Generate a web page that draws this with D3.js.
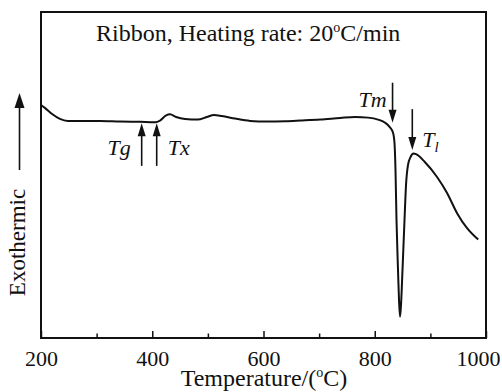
<!DOCTYPE html>
<html>
<head>
<meta charset="utf-8">
<script src="https://cdn.jsdelivr.net/npm/d3@7"></script>
<style>
  html, body { margin: 0; padding: 0; background: #fff; }
  svg { display: block; font-family: "Liberation Serif", "DejaVu Serif", serif; }
  svg text { font-family: "Liberation Serif", "DejaVu Serif", serif; }
</style>
</head>
<body>
<svg id="chart" width="502" height="392"></svg>
<script>

// DSC trace (temperature in degC, signal in arbitrary units)
const temperature = [200, 207, 220, 234, 248, 270, 306, 342, 378, 405, 414, 425, 432, 443, 459, 482,
  498, 511, 525, 549, 576, 606, 639, 666, 702, 738, 765, 788, 806, 818, 827, 833, 835.5, 837.3,
  839.1, 841.8, 843.6, 845.4, 847.2, 849.9, 853.5, 856.2, 859.8, 864.3, 869.7, 874.2, 890, 912,
  930, 948, 966, 986];
const signal = [71.5, 70.6, 68.7, 67.2, 66.6, 66.6, 66.6, 66.4, 66.3, 66.2, 66.7, 68.3, 68.6, 67.8, 67.2, 67.0,
  67.8, 68.4, 68.1, 67.3, 66.6, 66.4, 66.5, 66.7, 67.0, 67.5, 67.8, 67.6, 67.0, 66.1, 64.7, 62.9, 59.8, 51.5,
  36.2, 20.9, 11.7, 6.5, 10.1, 20.9, 36.2, 46.9, 53.1, 55.5, 56.6, 56.4, 54.0, 49.4,
  44.5, 38.3, 33.7, 30.2];

// x axis ticks
const majorTicks = [200, 400, 600, 800, 1000];
const minorTicks = [300, 500, 700, 900];

// marked temperatures and the arrows pointing at them
const markNames = ["Tg", "Tx", "Tm", "Tl"];
const markTemps = [381, 408, 832, 867.5];
const markFrom = [52.8, 52.8, 78.3, 70.2];   // arrow tail
const markTo = [65.9, 65.9, 66.0, 57.7];     // arrow tip


const MARGIN = { left: 41, right: 16, top: 12, bottom: 54 };
const WIDTH = 502, HEIGHT = 392;

const svg = d3.select("#chart");

const x = d3.scaleLinear()
    .domain([200, 1000])
    .range([MARGIN.left, WIDTH - MARGIN.right]);
const y = d3.scaleLinear()
    .domain([0, 100])
    .range([HEIGHT - MARGIN.bottom, MARGIN.top]);

const data = temperature.map((t, i) => ({ t: t, v: signal[i] }));

// frame
svg.append("rect")
    .attr("x", x(200))
    .attr("y", y(100))
    .attr("width", x(1000) - x(200))
    .attr("height", y(0) - y(100))
    .attr("fill", "none")
    .attr("stroke", "#111")
    .attr("stroke-width", 2);

// minor ticks (inside, no labels)
svg.append("g")
    .attr("transform", "translate(0," + y(0) + ")")
    .call(d3.axisBottom(x).tickValues(minorTicks).tickSizeInner(-4.5).tickSizeOuter(0).tickFormat(""))
    .call(g => g.select(".domain").remove())
    .call(g => g.selectAll("line").attr("stroke", "#111").attr("stroke-width", 1.5));

// major ticks with labels
const xAxis = svg.append("g")
    .attr("transform", "translate(0," + y(0) + ")")
    .call(d3.axisBottom(x).tickValues(majorTicks).tickSizeInner(-7).tickSizeOuter(0)
        .tickFormat(d3.format("d")))
    .call(g => g.select(".domain").remove())
    .attr("font-family", null)
    .attr("font-size", null);
xAxis.selectAll("line")
    .attr("stroke", "#111")
    .attr("stroke-width", 1.5);
xAxis.selectAll("text")
    .attr("y", 28)
    .attr("dy", null)
    .attr("fill", "#111")
    .style("font-size", "22px");
// last label is pulled in so it stays on the page
xAxis.selectAll("text")
    .filter(d => d === 1000)
    .attr("text-anchor", "end")
    .attr("x", 14);

// the trace
const line = d3.line()
    .x(d => x(d.t))
    .y(d => y(d.v))
    .curve(d3.curveMonotoneX);

svg.append("path")
    .datum(data)
    .attr("d", line)
    .attr("fill", "none")
    .attr("stroke", "#111")
    .attr("stroke-width", 2)
    .attr("stroke-linejoin", "round");

// arrows at the marked temperatures
function arrow(px, y0, y1, headLen, headW)
{
  let dir = (y1 > y0) ? 1 : -1;
  svg.append("line")
      .attr("x1", px).attr("x2", px)
      .attr("y1", y0).attr("y2", y1 - dir * headLen * 0.5)
      .attr("stroke", "#111")
      .attr("stroke-width", 1.6);
  svg.append("path")
      .attr("d", "M" + px + "," + y1
          + "L" + (px - headW / 2) + "," + (y1 - dir * headLen)
          + "L" + (px + headW / 2) + "," + (y1 - dir * headLen) + "Z")
      .attr("fill", "#111");
}

markTemps.forEach((t, i) =>
{
  arrow(x(t), y(markFrom[i]), y(markTo[i]), 13, 8);
});

// labels of the marks
const markLabel = svg.append("g")
    .style("font-style", "italic")
    .style("font-size", "22px")
    .attr("fill", "#111");

markLabel.append("text")
    .attr("x", x(markTemps[0]) - 11)
    .attr("y", 155)
    .attr("text-anchor", "end")
    .text(markNames[0]);
markLabel.append("text")
    .attr("x", x(markTemps[1]) + 11)
    .attr("y", 155)
    .text(markNames[1]);
markLabel.append("text")
    .attr("x", x(markTemps[2]) - 6)
    .attr("y", 107)
    .attr("text-anchor", "end")
    .text(markNames[2]);
let tl = markLabel.append("text")
    .attr("x", x(markTemps[3]) + 10)
    .attr("y", 147);
tl.append("tspan").text(markNames[3].charAt(0));
tl.append("tspan")
    .attr("dy", 5)
    .style("font-size", "15px")
    .text(markNames[3].charAt(1));

// title inside the frame
let title = svg.append("text")
    .attr("x", 96)
    .attr("y", 41)
    .attr("fill", "#111")
    .style("font-size", "24px");
title.append("tspan").text("Ribbon, Heating rate: 20");
title.append("tspan").attr("dy", -9).style("font-size", "14px").text("o");
title.append("tspan").attr("dy", 9).text("C/min");

// x axis title
let xTitle = svg.append("text")
    .attr("x", 264)
    .attr("y", 386)
    .attr("text-anchor", "middle")
    .attr("fill", "#111")
    .style("font-size", "24px");
xTitle.append("tspan").text("Temperature/(");
xTitle.append("tspan").attr("dy", -9).style("font-size", "14px").text("o");
xTitle.append("tspan").attr("dy", 9).text("C)");

// y axis title with the arrow
svg.append("text")
    .attr("transform", "translate(25,242.5) rotate(-90)")
    .attr("text-anchor", "middle")
    .attr("fill", "#111")
    .style("font-size", "23px")
    .text("Exothermic");
arrow(19.5, 170, 93, 15, 10);

</script>
</body>
</html>
